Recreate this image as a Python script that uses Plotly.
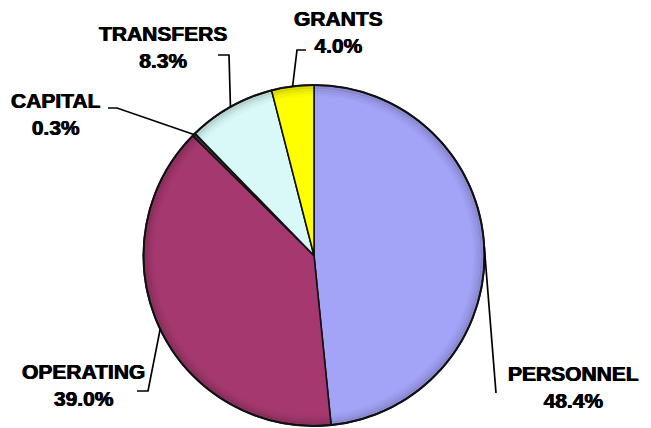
import math
import plotly.graph_objects as go

# Budget shares by category (percent of total)
categories = ["PERSONNEL", "OPERATING", "CAPITAL", "TRANSFERS", "GRANTS"]
shares = [48.4, 39.0, 0.3, 8.3, 4.0]
colors = ["#A3A3F8", "#A5396F", "#3A3A3A", "#D9F9F9", "#FFFF00"]

W, H = 651, 428
CX, CY, R = 314.0, 255.5, 170.5  # pie centre and radius in pixels

# label block centres (pixels) and the elbow / end points of each leader
label_layout = {
    "PERSONNEL": dict(pos=(573, 387), leader=[(496, 393)]),
    "OPERATING": dict(pos=(83, 385), leader=[(148, 391), (137, 391)]),
    "CAPITAL": dict(pos=(56, 114), leader=[(117, 108), (108, 108)]),
    "TRANSFERS": dict(pos=(163, 47), leader=[(229, 55), (218, 55)]),
    "GRANTS": dict(pos=(338, 32), leader=[(297, 50), (306, 50)]),
}


def px(x):
    return x / W


def py(y):
    return 1 - y / H


fig = go.Figure(
    go.Pie(
        labels=categories,
        values=shares,
        sort=False,
        direction="clockwise",
        rotation=0,
        textinfo="none",
        hoverinfo="label+percent",
        marker=dict(colors=colors, line=dict(color="#111111", width=1.6)),
        domain=dict(x=[px(CX - R), px(CX + R)], y=[py(CY + R), py(CY - R)]),
        showlegend=False,
    )
)

shapes = []
# soft darker rim for a bevelled look
for rr, lw, op in [(R - 2, 3, 0.14), (R - 4.5, 3, 0.09), (R - 7, 3, 0.05), (R - 9.5, 3, 0.025)]:
    shapes.append(dict(
        type="circle", xref="paper", yref="paper", layer="above",
        x0=px(CX - rr), x1=px(CX + rr), y0=py(CY + rr), y1=py(CY - rr),
        line=dict(color=f"rgba(0,0,0,{op})", width=lw),
    ))
shapes.append(dict(
    type="circle", xref="paper", yref="paper", layer="above",
    x0=px(CX - R), x1=px(CX + R), y0=py(CY + R), y1=py(CY - R),
    line=dict(color="#111111", width=2),
))

annotations = []
total = sum(shares)
cum = 0.0
for name, val in zip(categories, shares):
    mid = (cum + val / 2) / total * 2 * math.pi
    cum += val
    ax = CX + R * math.sin(mid)
    ay = CY - R * math.cos(mid)
    pts = [(ax, ay)] + label_layout[name]["leader"]
    path = "M " + " L ".join(f"{px(x):.5f},{py(y):.5f}" for x, y in pts)
    shapes.append(dict(type="path", xref="paper", yref="paper", path=path,
                       line=dict(color="#000000", width=1.7), layer="above"))
    lx, ly = label_layout[name]["pos"]
    annotations.append(dict(
        x=px(lx), y=py(ly), xref="paper", yref="paper",
        xanchor="center", yanchor="middle", showarrow=False,
        text=f"<b>{name}<br>{val:.1f}%</b>",
        font=dict(family="Liberation Sans, Arial, sans-serif", size=21, color="#000000",
                  shadow="0.4px 0 0 #000, -0.4px 0 0 #000"),
    ))

fig.update_layout(
    width=W, height=H,
    margin=dict(l=0, r=0, t=0, b=0),
    paper_bgcolor="#FFFFFF",
    plot_bgcolor="#FFFFFF",
    shapes=shapes,
    annotations=annotations,
)

fig.write_html("out.html")
